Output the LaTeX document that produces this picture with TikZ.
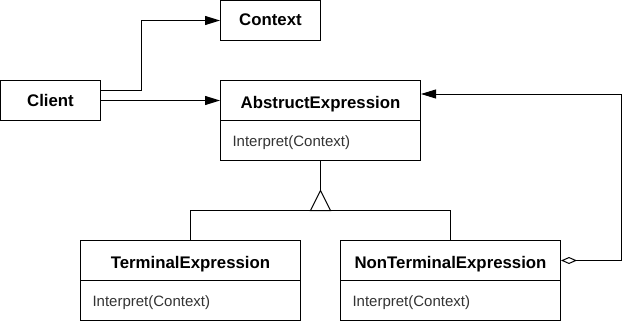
\documentclass[tikz,border=0pt]{standalone}
\usepackage{fontspec}
\setmainfont{Liberation Sans}
\usetikzlibrary{arrows.meta}
\definecolor{methodgray}{HTML}{333333}
\begin{document}
\begin{tikzpicture}[x=1pt,y=-1pt,line width=1pt,
  plainbox/.style={draw,rectangle,inner sep=0pt,minimum height=40pt,
    text height=11pt,text depth=0pt,
    font=\fontsize{16.8}{19}\selectfont\bfseries},
  titlebox/.style={plainbox,text height=16pt},
  methodbox/.style={draw,rectangle,inner sep=0pt,minimum height=40pt,
    text width=#1-24pt,align=left,text=methodgray,
    text height=12pt,text depth=0pt,
    font=\fontsize{15}{18}\selectfont},
  filled/.style={-{Triangle[length=15pt,width=9pt]}},
]
\useasboundingbox (-0.5,-0.5) rectangle (636.5,320.5);

% classes
\node[plainbox,minimum width=100pt] (context) at (270,20) {Context};
\node[plainbox,minimum width=100pt] (client) at (50,100) {Client};

\node[titlebox,minimum width=200pt] (abs) at (320,100) {AbstructExpression};
\node[methodbox=200pt,minimum width=200pt] (absm) at (320,140) {Interpret(Context)};

\node[titlebox,minimum width=220pt] (term) at (190,260) {TerminalExpression};
\node[methodbox=220pt,minimum width=220pt] (termm) at (190,300) {Interpret(Context)};

\node[titlebox,minimum width=220pt] (nonterm) at (450,260) {NonTerminalExpression};
\node[methodbox=220pt,minimum width=220pt] (nontermm) at (450,300) {Interpret(Context)};

% associations from the client
\draw[filled] ([yshift=10pt]client.east) -- ++(40pt,0) |- (context.west);
\draw[filled] (client.east) -- (abs.west);

% generalisation
\coordinate (apex) at (320,190);
\coordinate (bar) at (320,210);
\draw (absm.south) -- (apex);
\draw[line join=miter] (apex) -- ++(-10pt,-20pt) -- ++(20pt,0) -- cycle;
\draw (term.north) |- (bar) -| (nonterm.north);

% aggregation back to the abstract expression
\draw[{Diamond[open,length=16pt,width=7pt]}-{Triangle[length=15pt,width=9pt]}]
  (nonterm.east) -- ++(60pt,0) |- ([yshift=6.5pt]abs.east);
\end{tikzpicture}
\end{document}
